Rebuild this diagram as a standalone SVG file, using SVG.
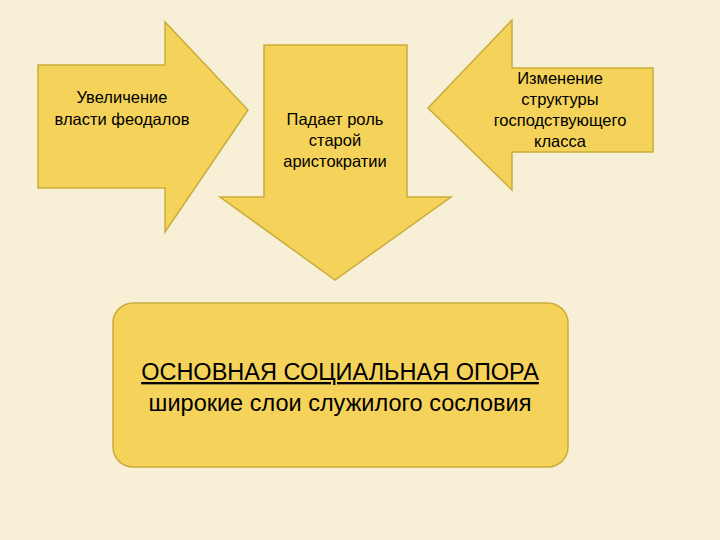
<svg xmlns="http://www.w3.org/2000/svg" width="720" height="540" viewBox="0 0 720 540">
<style>
.s{fill:#f5d35a;stroke:#c9ac3c;stroke-width:1.5}
.t{font-family:"Liberation Sans",Arial,sans-serif;font-size:16.5px;fill:#000;text-anchor:middle}
.b{font-family:"Liberation Sans",Arial,sans-serif;font-size:23.5px;fill:#000;text-anchor:middle}
</style>
<rect width="720" height="540" fill="#f8f0d6"/>
<g id="n1"><path class="s" d="M38 65H165V22L248 110L165 232V188H38Z"/>
<text class="t" x="122" y="103">Увеличение</text><text class="t" x="122" y="125">власти феодалов</text></g>
<g id="n2"><path class="s" d="M264 45H407V197H451L335 280L220 197H264Z"/>
<text class="t" x="335" y="125">Падает роль</text><text class="t" x="335" y="146">старой</text><text class="t" x="335" y="167">аристократии</text></g>
<g id="n3"><path class="s" d="M653 68H512V20L428 108L512 190V152H653Z"/>
<text class="t" x="560" y="84">Изменение</text><text class="t" x="560" y="105">структуры</text><text class="t" x="560" y="126">господствующего</text><text class="t" x="560" y="147">класса</text></g>
<g id="n4"><rect class="s" x="113" y="303" width="455" height="164" rx="20"/>
<text class="b" x="340" y="380" text-decoration="underline">ОСНОВНАЯ СОЦИАЛЬНАЯ ОПОРА</text>
<text class="b" x="340" y="411">широкие слои служилого сословия</text></g>
<g id="connectors"/>
</svg>
